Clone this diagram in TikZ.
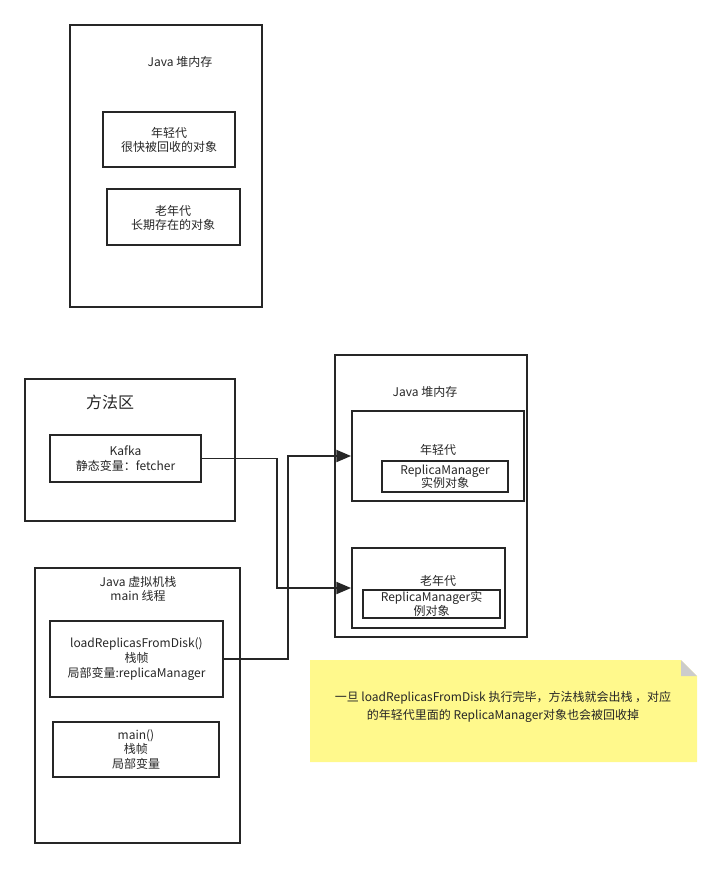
\documentclass[tikz,border=0pt]{standalone}
\usepackage{fontspec}
\setmainfont{Noto Sans CJK SC}
\usetikzlibrary{arrows.meta}
\begin{document}
\begin{tikzpicture}[x=0.75pt,y=-0.75pt,
  box/.style={draw=black!85,line width=1.4pt},
  txt/.style={font=\fontsize{9}{11}\selectfont,align=center,text=black!85},
  link/.style={draw=black!85,line width=1.4pt,-{Triangle[length=11pt,width=9pt]}}]
\useasboundingbox (0,0) rectangle (723,869);
% heap 1
\draw[box] (70,25) rectangle (262,307);
\node[txt] (t1) at (180,62) {Java 堆内存};
\draw[box] (103,112) rectangle (235,167);
\node[txt] (y1) at (169,140) {年轻代\\很快被回收的对象};
\draw[box] (107,189) rectangle (240,245);
\node[txt] (o1) at (173,218) {老年代\\长期存在的对象};
% method area
\draw[box] (25,379) rectangle (235,521);
\node[txt,font=\fontsize{12}{14}\selectfont] (ma) at (110,402) {方法区};
\node[box,txt,minimum width=151*0.75pt,minimum height=47*0.75pt,inner sep=0pt] (kafka) at (125.5,458.5) {Kafka\\静态变量：fetcher};
% stack
\draw[box] (35,568) rectangle (240,843);
\node[txt] (st) at (138,589) {Java 虚拟机栈\\main 线程};
\node[box,txt,minimum width=173*0.75pt,minimum height=76*0.75pt,inner sep=0pt] (load) at (136.5,659) {loadReplicasFromDisk()\\栈帧\\局部变量:replicaManager};
\node[box,txt,minimum width=166*0.75pt,minimum height=55*0.75pt,inner sep=0pt] (mainf) at (136,749.5) {main()\\栈帧\\局部变量};
% heap 2
\draw[box] (335,355) rectangle (527,637);
\node[txt] (t2) at (425,392) {Java 堆内存};
\node[box,minimum width=172*0.75pt,minimum height=90*0.75pt,inner sep=0pt] (young) at (438,456) {};
\node[txt] at (438,450) {年轻代};
\node[box,txt,minimum width=126*0.75pt,minimum height=31*0.75pt,inner sep=0pt,font=\fontsize{9}{10}\selectfont] (rm1) at (445,476.5) {ReplicaManager\\实例对象};
\node[box,minimum width=153*0.75pt,minimum height=80*0.75pt,inner sep=0pt] (old) at (428.5,588) {};
\node[txt] at (438,581) {老年代};
\node[box,txt,minimum width=137*0.75pt,minimum height=28*0.75pt,inner sep=0pt,font=\fontsize{9}{10}\selectfont] (rm2) at (431.5,604) {ReplicaManager实\\例对象};
% connectors
\draw[link] (kafka.east) -- (277,458.5) |- (old.west);
\draw[link] (load.east) -- (288,659) |- (young.west);
% note
\fill[fill=yellow!45] (310,660) -- (681,660) -- (697,676) -- (697,762) -- (310,762) -- cycle;
\fill[black!20] (681,660) -- (681,676) -- (697,676) -- cycle;
\node[txt,font=\fontsize{9}{13}\selectfont] (note) at (503,707) {一旦 loadReplicasFromDisk 执行完毕，方法栈就会出栈 ，对应\\的年轻代里面的 ReplicaManager对象也会被回收掉};
\end{tikzpicture}
\end{document}
